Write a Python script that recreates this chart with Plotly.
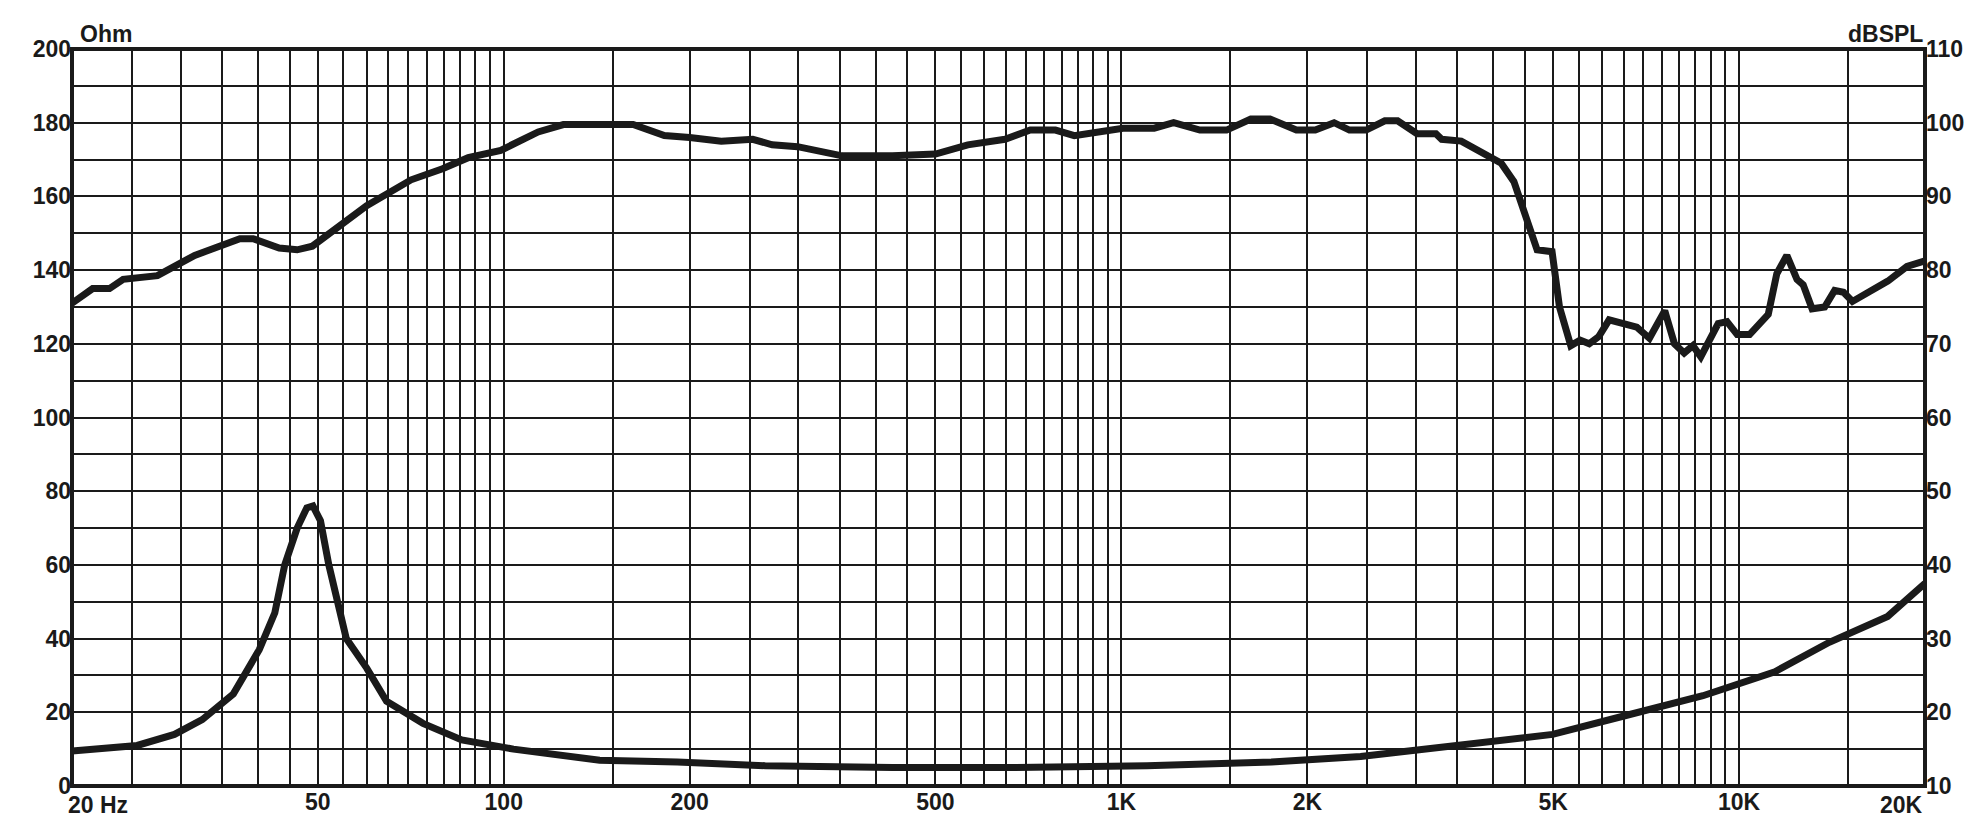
import plotly.graph_objects as go

# SPL response (Hz, dBSPL)
spl_freq = [20, 21.6, 23.0, 24.2, 27.5, 31.6, 37.4, 39.3, 43.3, 46.3, 49.0, 53.3, 60.0, 70.8,
            79.6, 87.6, 98.9, 113.7, 124.9, 162, 182, 200, 225, 253, 272, 299, 353, 426, 500,
            564, 648, 712, 782, 839, 945, 1006, 1130, 1215, 1340, 1480, 1620, 1740, 1920, 2060,
            2210, 2340, 2490, 2670, 2800, 3010, 3230, 3300, 3550, 3990, 4120, 4320, 4710, 4980,
            5120, 5340, 5530, 5720, 5930, 6160, 6510, 6830, 7160, 7580, 7860, 8150, 8420, 8670,
            9250, 9560, 9930, 10400, 11150, 11510, 11950, 12410, 12700, 13130, 13760, 14280,
            14760, 15260, 17410, 18700, 20000]
spl_db = [75.5, 77.5, 77.5, 78.75, 79.25, 82, 84.25, 84.25, 83, 82.75, 83.25, 85.5, 88.75, 92.25,
          93.75, 95.25, 96.25, 98.75, 99.75, 99.75, 98.25, 98, 97.5, 97.75, 97, 96.75, 95.5, 95.5,
          95.75, 97, 97.75, 99, 99, 98.25, 99, 99.25, 99.25, 100, 99, 99, 100.5, 100.5, 99, 99,
          100, 99, 99, 100.25, 100.25, 98.5, 98.5, 97.75, 97.5, 95, 94.5, 92, 82.75, 82.5,
          75, 69.75, 70.5, 70, 71, 73.25, 72.75, 72.25, 70.75, 74.5, 70, 68.75, 69.75, 68.25,
          72.75, 73, 71.25, 71.25, 74, 79.5, 82, 78.75, 78, 74.75, 75, 77.25, 77, 75.75,
          78.5, 80.5, 81.25]

# impedance (Hz, Ohm)
imp_freq = [20, 25.5, 29.3, 32.5, 36.5, 40.2, 42.6, 44.2, 46.3, 48.0, 49.1, 50.5, 52.1, 55.6,
            60.0, 64.6, 74.0, 85.5, 103.7, 125, 143, 191, 265, 426, 670, 1100, 1750, 2440,
            3550, 4990, 6510, 8740, 11430, 14000, 17400, 20000]
imp_ohm = [9.5, 11, 14, 18, 25, 37, 47, 60, 70, 75.5, 76, 72, 60, 40,
           32, 23, 17, 12.5, 10, 8, 7, 6.5, 5.5, 5, 5, 5.5, 6.5, 8,
           11, 14, 19, 24.5, 31, 39, 46, 55]

# vertical grid lines of the printed chart
grid_freq = ([20 + 5 * i for i in range(17)] + [100 + 50 * i for i in range(1, 19)]
             + [1000 + 500 * i for i in range(1, 19)] + [15000, 20000])
x_labels = {50: "50", 100: "100", 200: "200", 500: "500", 1000: "1K",
            2000: "2K", 5000: "5K", 10000: "10K"}
ohm_ticks = list(range(0, 201, 10))
db_ticks = list(range(10, 111, 10))

ink = "#1a1a1a"
font = dict(family="Liberation Sans", size=23, color=ink, weight="bold")

fig = go.Figure()
fig.add_trace(go.Scatter(x=imp_freq, y=imp_ohm, mode="lines",
                         line=dict(color=ink, width=7), hoverinfo="skip"))
fig.add_trace(go.Scatter(x=spl_freq, y=spl_db, mode="lines", yaxis="y2",
                         line=dict(color=ink, width=7), hoverinfo="skip"))

fig.update_layout(
    width=1987, height=819,
    margin=dict(l=64, r=70, t=41, b=31),
    paper_bgcolor="white", plot_bgcolor="white",
    showlegend=False,
    xaxis=dict(type="log", range=[1.30103, 4.30103],
               tickvals=grid_freq,
               ticktext=[x_labels.get(f, "") for f in grid_freq],
               showgrid=True, gridcolor=ink, gridwidth=2,
               ticks="", tickfont=font, zeroline=False),
    yaxis=dict(range=[0, 200], tickvals=ohm_ticks,
               ticktext=[str(v) if v % 20 == 0 else "" for v in ohm_ticks],
               showgrid=True, gridcolor=ink, gridwidth=2,
               ticks="", tickfont=font, zeroline=False),
    yaxis2=dict(range=[10, 110], overlaying="y", side="right",
                tickvals=db_ticks, showgrid=False, ticks="",
                tickfont=font, zeroline=False),
    shapes=[dict(type="rect", xref="paper", yref="paper", x0=0, x1=1, y0=0, y1=1,
                 line=dict(color=ink, width=4))],
    annotations=[
        dict(text="Ohm", xref="paper", yref="paper", x=0.003, y=1.0, xanchor="left",
             yanchor="bottom", showarrow=False, font=font),
        dict(text="dBSPL", xref="paper", yref="paper", x=1.0, y=1.0, xanchor="right",
             yanchor="bottom", showarrow=False, font=font),
        dict(text="20 Hz", xref="paper", yref="paper", x=-0.003, y=0, xanchor="left",
             yanchor="top", yshift=-4, showarrow=False, font=font),
        dict(text="20K", xref="paper", yref="paper", x=1.0, y=0, xanchor="right",
             yanchor="top", yshift=-4, showarrow=False, font=font),
    ],
)

fig.write_html("out.html")
